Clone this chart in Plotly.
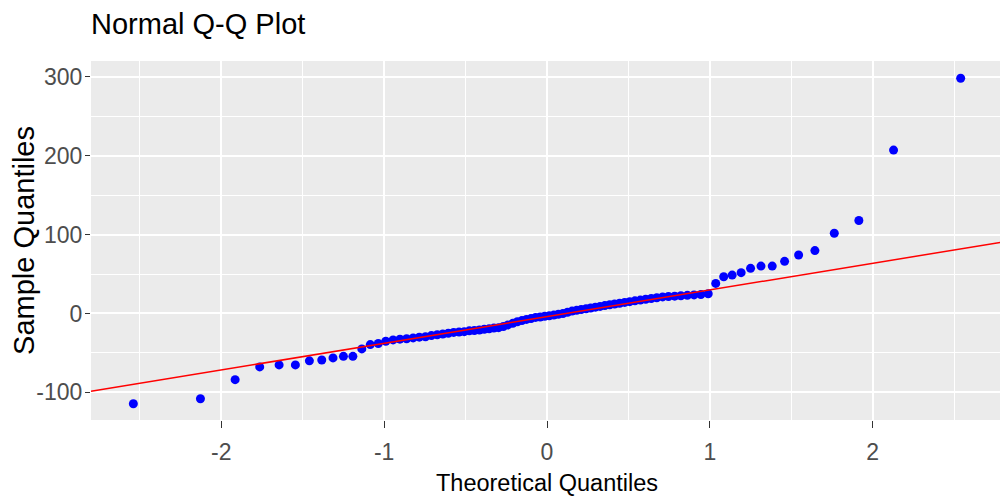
import plotly.graph_objects as go

# Theoretical quantiles (n = 90 points)
theoretical = [
    -2.54, -2.128, -1.915, -1.764, -1.645, -1.545, -1.459, -1.383, -1.314, -1.250,
    -1.192, -1.137, -1.085, -1.036, -0.990, -0.945, -0.903, -0.862, -0.822, -0.784,
    -0.746, -0.710, -0.674, -0.640, -0.606, -0.573, -0.540, -0.508, -0.477, -0.446,
    -0.415, -0.385, -0.355, -0.326, -0.297, -0.268, -0.240, -0.210, -0.182, -0.154,
    -0.126, -0.098, -0.070, -0.042, -0.014, 0.014, 0.042, 0.070, 0.098, 0.126,
    0.154, 0.182, 0.210, 0.240, 0.268, 0.297, 0.326, 0.355, 0.385, 0.415,
    0.446, 0.477, 0.508, 0.540, 0.573, 0.606, 0.640, 0.674, 0.710, 0.746,
    0.784, 0.822, 0.862, 0.903, 0.945, 0.990, 1.036, 1.085, 1.137, 1.192,
    1.250, 1.314, 1.383, 1.459, 1.545, 1.645, 1.764, 1.915, 2.128, 2.54,
]

# Sample quantiles (sorted sample values)
sample = [
    -114.4, -108.0, -83.9, -67.7, -65.2, -65.2, -60.0, -59.0, -56.3, -54.3,
    -54.3, -44.9, -39.4, -38.1, -35.2, -33.5, -32.5, -32.0, -31.0, -30.0,
    -29.5, -28.0, -27.0, -26.0, -25.0, -24.0, -23.5, -23.0, -22.0, -21.5,
    -21.0, -20.0, -19.5, -18.5, -18.0, -16.5, -14.5, -12.5, -10.5, -9.0,
    -7.5, -6.5, -5.0, -4.5, -3.5, -3.0, -2.0, -1.0, 0.0, 1.5,
    3.0, 4.0, 5.0, 6.0, 7.0, 8.0, 9.0, 10.0, 11.0, 12.0,
    13.0, 14.0, 15.0, 16.0, 17.0, 18.0, 19.0, 20.0, 21.0, 21.5,
    22.0, 22.5, 23.0, 23.5, 24.0, 25.0, 38.1, 46.6, 48.7, 51.7,
    57.2, 60.1, 60.1, 66.1, 74.1, 79.7, 101.7, 117.8, 207.1, 298.2,
]

# Reference line (qq line)
line_intercept = -4.0
line_slope = 33.8

x_range = [-2.8, 2.8]
y_range = [-135, 320]
x_ticks = [-2, -1, 0, 1, 2]
y_ticks = [-100, 0, 100, 200, 300]

line_x = x_range
line_y = [line_intercept + line_slope * v for v in line_x]

fig = go.Figure()
fig.add_trace(go.Scatter(
    x=theoretical, y=sample, mode="markers",
    marker=dict(color="#0000FF", size=9, line=dict(width=0)),
    showlegend=False, hoverinfo="x+y",
))
fig.add_trace(go.Scatter(
    x=line_x, y=line_y, mode="lines",
    line=dict(color="#FF0000", width=1.5),
    showlegend=False, hoverinfo="skip",
))

font_family = "Liberation Sans, Arial, sans-serif"

fig.update_layout(
    width=1000, height=494,
    margin=dict(l=83, r=5, t=53, b=82),
    paper_bgcolor="white",
    plot_bgcolor="#EBEBEB",
    font=dict(family=font_family, color="#000000"),
    title=dict(
        text="Normal Q-Q Plot",
        x=0, xref="paper", xanchor="left",
        y=0.968, yref="container", yanchor="middle",
        font=dict(size=29, color="#000000"),
        pad=dict(l=0),
    ),
    xaxis=dict(
        range=x_range, tickvals=x_ticks, ticktext=[str(v) for v in x_ticks],
        automargin=False,
        showgrid=True, gridcolor="white", gridwidth=1.6,
        minor=dict(dtick=1, tick0=-2.5, showgrid=True, gridcolor="white", gridwidth=0.8),
        zeroline=False, showline=False,
        ticks="outside", ticklen=7, tickwidth=1.3, tickcolor="#333333",
        ticklabelstandoff=4,
        tickfont=dict(size=23, color="#4D4D4D"),
        title=dict(text="Theoretical Quantiles", font=dict(size=23.5, color="#000000"), standoff=10),
    ),
    yaxis=dict(
        range=y_range, tickvals=y_ticks, ticktext=[str(v) for v in y_ticks],
        automargin=False,
        showgrid=True, gridcolor="white", gridwidth=1.6,
        minor=dict(dtick=100, tick0=-50, showgrid=True, gridcolor="white", gridwidth=0.8),
        zeroline=False, showline=False,
        ticks="outside", ticklen=5, tickwidth=1.3, tickcolor="#333333",
        ticklabelstandoff=-2,
        tickfont=dict(size=23, color="#4D4D4D"),
        title=dict(text="Sample Quantiles", font=dict(size=29, color="#000000"), standoff=1),
    ),
)

fig.write_html("out.html")
